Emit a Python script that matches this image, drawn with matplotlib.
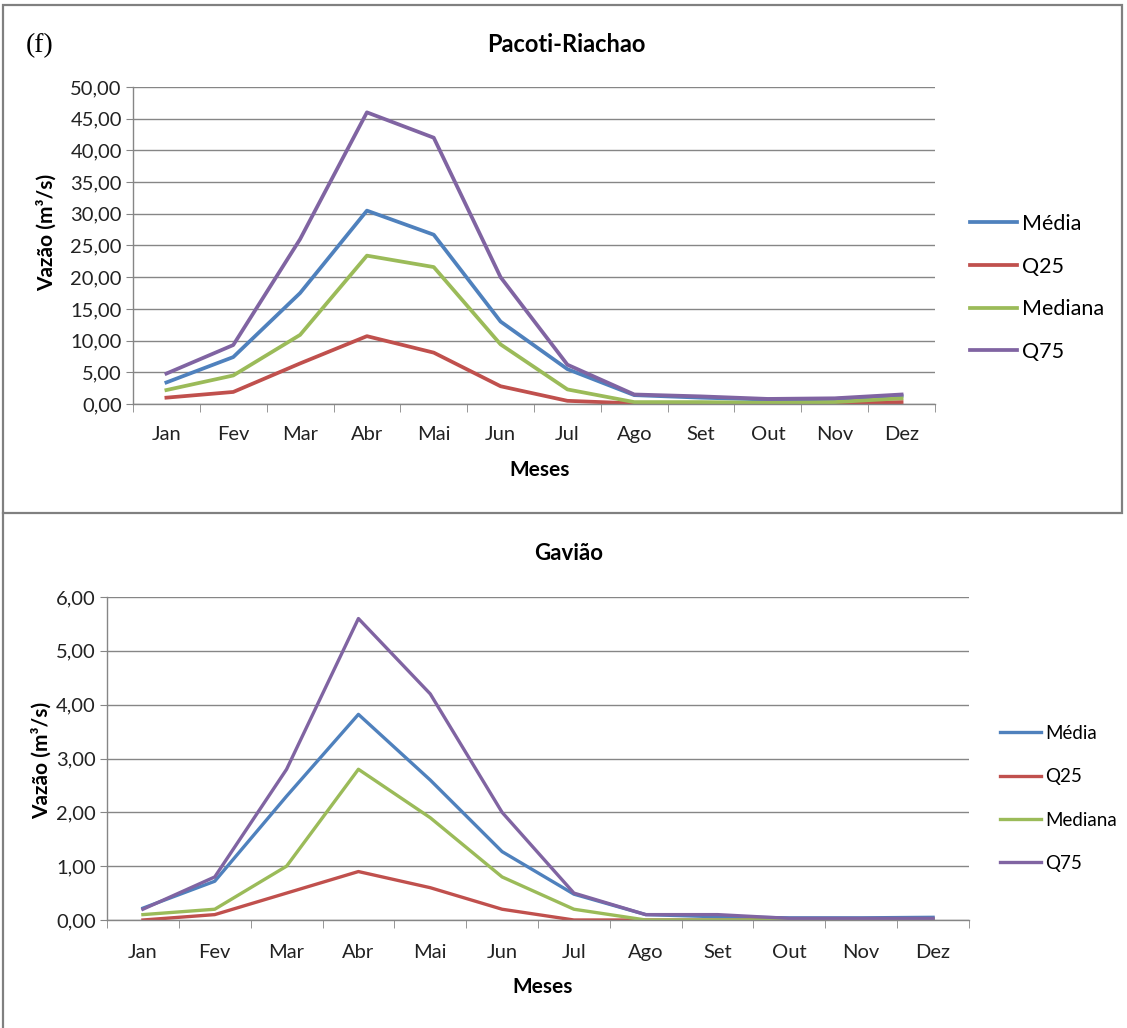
import matplotlib
matplotlib.use("Agg")
import matplotlib.pyplot as plt
from matplotlib.ticker import FuncFormatter
from matplotlib.lines import Line2D
from matplotlib.patches import Rectangle

meses = ["Jan", "Fev", "Mar", "Abr", "Mai", "Jun", "Jul", "Ago", "Set", "Out", "Nov", "Dez"]
series_names = ["Média", "Q25", "Mediana", "Q75"]

# Pacoti-Riachao (m3/s)
pacoti_media = [3.4, 7.4, 17.5, 30.5, 26.7, 13.0, 5.5, 1.4, 1.0, 0.7, 0.8, 1.3]
pacoti_q25 = [1.0, 1.9, 6.4, 10.7, 8.1, 2.8, 0.5, 0.1, 0.1, 0.1, 0.1, 0.3]
pacoti_mediana = [2.2, 4.5, 10.9, 23.4, 21.6, 9.4, 2.3, 0.3, 0.3, 0.2, 0.3, 0.9]
pacoti_q75 = [4.8, 9.3, 26.0, 46.0, 42.0, 20.0, 6.2, 1.5, 1.2, 0.8, 0.9, 1.5]

# Gaviao (m3/s)
gaviao_media = [0.22, 0.72, 2.3, 3.82, 2.6, 1.27, 0.48, 0.1, 0.06, 0.04, 0.04, 0.05]
gaviao_q25 = [0.0, 0.1, 0.5, 0.9, 0.6, 0.2, 0.0, 0.0, 0.0, 0.0, 0.0, 0.0]
gaviao_mediana = [0.1, 0.2, 1.0, 2.8, 1.9, 0.8, 0.2, 0.0, 0.0, 0.0, 0.0, 0.0]
gaviao_q75 = [0.2, 0.8, 2.8, 5.6, 4.2, 2.0, 0.5, 0.1, 0.1, 0.03, 0.03, 0.03]

colors = ["#4F81BD", "#C0504D", "#9BBB59", "#8064A2"]
W, H = 1127, 1028
plt.rcParams["font.family"] = ["Lato", "DejaVu Sans"]

fig = plt.figure(figsize=(W / 100, H / 100), dpi=100)


def fx(px):
    return px / W


def fy(py):
    return 1 - py / H


def draw_panel(rect, series, ymax, ystep, title, title_xy, title_fs, ylab_xy, xlab_xy,
               leg_xy, leg_fs, leg_sp, lw, pad):
    ax = fig.add_axes(rect)
    x = list(range(len(meses)))
    for vals, c, name in zip(series, colors, series_names):
        ax.plot(x, vals, color=c, lw=lw, label=name)
    ax.set_xlim(-0.5, len(meses) - 0.5)
    ax.set_ylim(0, ymax)
    yt = [i * ystep for i in range(int(round(ymax / ystep)) + 1)]
    ax.set_yticks(yt)
    ax.yaxis.set_major_formatter(FuncFormatter(lambda v, p: ("%.2f" % v).replace(".", ",")))
    ax.set_xticks(x)
    ax.set_xticklabels(meses)
    ax.set_xticks([i - 0.5 for i in range(len(meses) + 1)], minor=True)
    ax.tick_params(axis="x", which="major", length=0, pad=pad, labelsize=14.5, labelcolor="#222222")
    ax.tick_params(axis="x", which="minor", length=6, color="#868686", direction="out")
    ax.tick_params(axis="y", length=5, color="#868686", labelsize=14.5, pad=3, labelcolor="#222222")
    ax.grid(axis="y", color="#868686", lw=1)
    ax.set_axisbelow(True)
    for s in ["top", "right"]:
        ax.spines[s].set_visible(False)
    for s in ["left", "bottom"]:
        ax.spines[s].set_color("#868686")
        ax.spines[s].set_linewidth(1)
    fig.text(fx(title_xy[0]), fy(title_xy[1]), title, ha="center", va="center",
             fontsize=title_fs, fontweight="bold")
    fig.text(fx(ylab_xy[0]), fy(ylab_xy[1]), "Vazão (m³/s)", ha="center", va="center",
             rotation=90, fontsize=15, fontweight="bold")
    fig.text(fx(xlab_xy[0]), fy(xlab_xy[1]), "Meses", ha="center", va="center",
             fontsize=15, fontweight="bold")
    handles = [Line2D([], [], color=c, lw=lw) for c in colors]
    fig.legend(handles, series_names, loc="upper left", bbox_to_anchor=(fx(leg_xy[0]), fy(leg_xy[1])),
               frameon=False, fontsize=leg_fs, handlelength=2.2, handletextpad=0.2,
               labelspacing=leg_sp, borderpad=0, borderaxespad=0)
    return ax


draw_panel([fx(133), fy(404), fx(935) - fx(133), fy(87) - fy(404)],
           [pacoti_media, pacoti_q25, pacoti_mediana, pacoti_q75], 50, 5,
           "Pacoti-Riachao", (566, 44), 17, (47, 232), (540, 470),
           (970, 214), 15.5, 1.05, 2.7, 16)

draw_panel([fx(107), fy(920), fx(969) - fx(107), fy(597) - fy(920)],
           [gaviao_media, gaviao_q25, gaviao_mediana, gaviao_q75], 6, 1,
           "Gavião", (569, 553), 16, (42, 760), (543, 987),
           (1000, 725), 13.5, 1.4, 2.4, 17)

fig.text(fx(40), fy(46), "(f)", ha="center", va="center", fontsize=20,
         family="Liberation Serif")

# panel frames
fig.add_artist(Rectangle((fx(3), fy(513)), fx(1122) - fx(3), fy(5) - fy(513),
                         transform=fig.transFigure, fill=False, ec="#808080", lw=1.6))
fig.add_artist(Line2D([fx(3), fx(3)], [fy(513), 0], transform=fig.transFigure,
                      color="#808080", lw=1.6))

fig.savefig("out.png", dpi=100)
